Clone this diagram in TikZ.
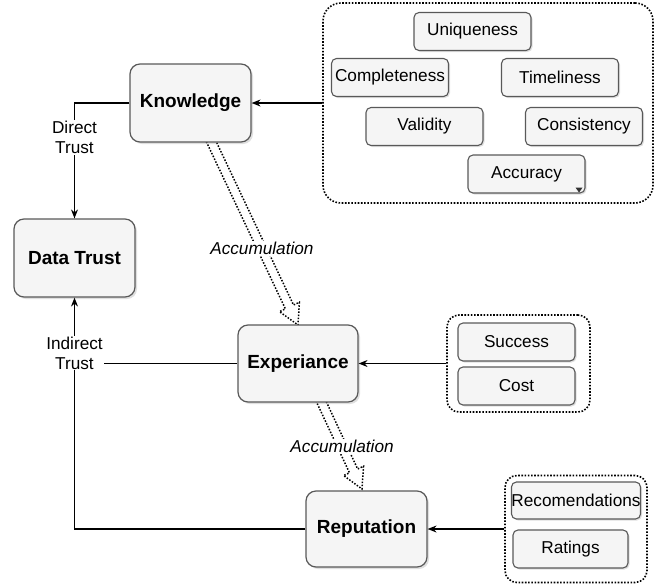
\documentclass[tikz,border=0pt]{standalone}
\usepackage{fontspec}
\setmainfont{Liberation Sans}
\usetikzlibrary{calc,arrows.meta,shadows}

\begin{document}
\begin{tikzpicture}[x=1pt, y=-1pt, node distance=44pt,
  >={Stealth[length=9pt, width=7pt, inset=3pt]},
  block/.style={draw=black!65, fill=black!4, line width=1.2pt, rounded corners=10pt, minimum width=121pt, minimum height=78pt, inner sep=0pt, font=\fontsize{19}{21}\selectfont\bfseries, drop shadow={shadow xshift=2pt, shadow yshift=-2pt, opacity=0.25}},
  item/.style={draw=black!65, fill=black!4, line width=1.1pt, rounded corners=5pt, minimum width=117pt, minimum height=38pt, inner sep=0pt, font=\fontsize{17.2}{20}\selectfont, drop shadow={shadow xshift=1.5pt, shadow yshift=-1.5pt, opacity=0.25}},
  group/.style={draw, line width=1.6pt, dash pattern=on 1.6pt off 1.6pt, rounded corners=18pt, inner sep=0pt},
  flow/.style={->, line width=1.2pt},
  acc/.style={draw, line width=1.5pt, dash pattern=on 1.5pt off 1.6pt},
  tag/.style={fill=white, inner sep=1pt, align=center, font=\fontsize{17.2}{20}\selectfont},
  acctag/.style={tag, font=\fontsize{17.2}{20}\selectfont\itshape}]

  \useasboundingbox (0,0) rectangle (665,587);

  % Groups
  \node[group, minimum width=330pt, minimum height=200pt] (G1) at (488,103) {};
  \node[group, minimum width=143pt, minimum height=97pt, rounded corners=12pt] (G2) at (518.5,363.5) {};
  \node[group, minimum width=142pt, minimum height=107pt, rounded corners=12pt] (G3) at (576,529) {};

  % Accumulation arrows
  \coordinate (C1) at (210,139);
  \coordinate (D1) at (298,325);
  \coordinate (M1) at ($(D1)!20pt!(C1)$);
  \draw[acc] ($(C1)!4.5pt!90:(D1)$) -- ($(M1)!4.5pt!90:(D1)$) -- ($(M1)!11pt!90:(D1)$) -- (D1)
    -- ($(M1)!11pt!-90:(D1)$) -- ($(M1)!4.5pt!-90:(D1)$) -- ($(C1)!4.5pt!-90:(D1)$) -- cycle;
  \coordinate (C2) at (319.6,398);
  \coordinate (D2) at (362,489);
  \coordinate (M2) at ($(D2)!20pt!(C2)$);
  \draw[acc] ($(C2)!4.5pt!90:(D2)$) -- ($(M2)!4.5pt!90:(D2)$) -- ($(M2)!11pt!90:(D2)$) -- (D2)
    -- ($(M2)!11pt!-90:(D2)$) -- ($(M2)!4.5pt!-90:(D2)$) -- ($(C2)!4.5pt!-90:(D2)$) -- cycle;
  \node[acctag] (A1) at ($(C1)!0.59!(D1)$) {Accumulation};
  \node[acctag] (A2) at ($(C2)!0.53!(D2)$) {Accumulation};

  % Main blocks
  \node[block] (K1) at (190.5,103) {Knowledge};
  \node[block] (T1) at (74.5,258) {Data Trust};
  \node[block, minimum width=120pt, minimum height=77pt] (X1) at (298,363.5) {Experiance};
  \node[block, minimum height=76pt] (R1) at (366.5,529) {Reputation};

  % Knowledge items
  \node[item] (Q1) at (472.5,31.5) {Uniqueness};
  \node[item] (Q2) at (390,77.5) {Completeness};
  \node[item] (Q3) at (560,77.5) {Timeliness};
  \node[item] (Q4) at (424.5,126.5) {Validity};
  \node[item] (Q5) at (584,126.5) {Consistency};
  \node[item] (Q6) at (526.5,174) {Accuracy};
  \fill[black!80] ($(Q6.south east)+(-10,-6)$) -- ++(7,0) -- ++(-3.5,5) -- cycle;

  % Experiance items
  \node[item] (S1) at (516.5,342) {Success};
  \node[item, below of=S1] (S2) {Cost};

  % Reputation items
  \node[item, minimum width=126pt, minimum height=37pt] (P1) at (576,500.5) {Recomendations};
  \node[item, minimum width=115pt] (P2) at (570.5,549) {Ratings};

  % Arrows into the blocks
  \draw[flow] (G1.west) -- (K1.east);
  \draw[flow] (G2.west) -- (X1.east);
  \draw[flow] (G3.west) -- (R1.east);

  % Trust arrows
  \draw[flow] (K1.west) -| (T1.north) node[tag, pos=0.65] (L1) {Direct\\Trust};
  \draw[line width=1.2pt] (X1.west) -- (X1.west -| T1.south);
  \draw[flow] (R1.west) -| (T1.south) node[tag, pos=0.88] (L2) {Indirect\\Trust};

\end{tikzpicture}
\end{document}
